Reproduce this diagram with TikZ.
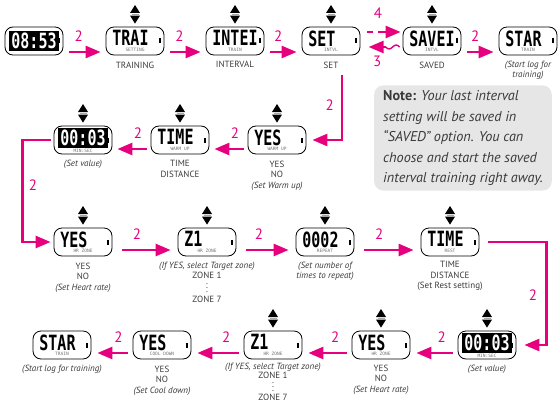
\documentclass[tikz,border=0pt]{standalone}
\usepackage{fontspec}
\setmainfont{PT Sans}
\newfontfamily\lcdfont{DejaVu Sans Mono}
\usetikzlibrary{arrows.meta, positioning}

\definecolor{stepmag}{HTML}{E6007E}
\definecolor{captxt}{HTML}{3A3A3A}
\definecolor{notebg}{HTML}{E6E6E6}

\newcommand{\lcd}[1]{\scalebox{1.0}[1.4]{\lcdfont\bfseries\fontsize{15}{15}\selectfont\makebox[3.01em][l]{#1}}}
\newcommand{\lcdinv}[1]{{\setlength{\fboxsep}{2pt}\colorbox{black}{\color{white}\lcd{#1}}}}
\newcommand{\lcdsub}[1]{{\lcdfont\fontsize{4.5}{5}\selectfont\color{black!55}#1}}

\begin{document}
\begin{tikzpicture}[x=1pt, y=-1pt,
        watch/.style={draw=black, line width=0.8pt, rounded corners=8pt, minimum width=58pt,
            minimum height=28pt, inner sep=0pt, align=center, font=\fontsize{5}{5.5}\selectfont},
        caption/.style={font=\fontsize{9}{10.5}\selectfont, text=captxt, align=center, inner sep=0pt},
        next arrow/.style={draw=stepmag, line width=2.6pt, -{Triangle[length=15pt, width=12pt]}},
        steplbl/.style={text=stepmag, font=\fontsize{15}{15}\selectfont, inner sep=0pt},
        note/.style={fill=notebg, rounded corners=9pt, align=left, inner xsep=9pt, inner ysep=5pt,
            font=\fontsize{14.2}{20.5}\selectfont, text=captxt},
        updown/.pic={
            \fill[black] (0,0) -- (-5,-8) -- (5,-8) -- cycle;
            \draw[black!35, line width=1pt] (-3.5,-9.3) -- (3.5,-9.3);
            \fill[black] (-5,-10.6) -- (5,-10.6) -- (0,-18.6) -- cycle;
        }]

    \useasboundingbox (0,0) rectangle (559,404);

    % Row 1: menu
    \node[watch] (w0) at (34,41) {\lcdinv{08:53}};
    \node[watch] (w1) at (135,41) {\lcd{TRAI}\\\lcdsub{SETTING}};
    \node[watch] (w2) at (235,41) {\lcd{INTEI}\\\lcdsub{TRAIN}};
    \node[watch] (w3) at (331,41) {\lcd{SET}\\\lcdsub{INTVL}};
    \node[watch] (w4) at (432,41) {\lcd{SAVEI}\\\lcdsub{INTVL}};
    \node[watch] (w5) at (528,41) {\lcd{STAR}\\\lcdsub{TRAIN}};

    % Row 2: warm up
    \node[watch] (v1) at (83,140) {\lcdinv{00:03}\\\lcdsub{MIN:SEC}};
    \node[watch] (v2) at (180,140) {\lcd{TIME}\\\lcdsub{WARM UP}};
    \node[watch] (v3) at (277,140) {\lcd{YES}\\\lcdsub{WARM UP}};

    % Row 3: heart rate, repeat, rest
    \node[watch] (h1) at (83,242) {\lcd{YES}\\\lcdsub{HR ZONE}};
    \node[watch] (h2) at (207,242) {\lcd{Z1}\\\lcdsub{HR ZONE}};
    \node[watch] (h3) at (325,242) {\lcd{0002}\\\lcdsub{REPEAT}};
    \node[watch] (h4) at (450,242) {\lcd{TIME}\\\lcdsub{REST}};

    % Row 4: back to start
    \node[watch] (r1) at (487,345) {\lcdinv{00:03}\\\lcdsub{MIN:SEC}};
    \node[watch] (r2) at (381,345) {\lcd{YES}\\\lcdsub{HR ZONE}};
    \node[watch] (r3) at (273,345) {\lcd{Z1}\\\lcdsub{HR ZONE}};
    \node[watch] (r4) at (162,345) {\lcd{YES}\\\lcdsub{COOL DOWN}};
    \node[watch] (r5) at (62,345) {\lcd{STAR}\\\lcdsub{TRAIN}};

    % Side marks and up/down buttons
    \foreach \w in {w0,w1,w2,w3,w4,w5,v1,v2,v3,h1,h2,h3,h4,r1,r2,r3,r4,r5}
        \fill ([shift={(-5,-2.5)}]\w.east) rectangle ++(2,5);
    \foreach \w in {w1,w2,w3,w4,v1,v2,v3,h1,h2,h3,h4,r1,r2,r3}
        \pic at ([yshift=3pt]\w.north) {updown};

    % Captions
    \node[caption, below=6pt of w1] (c1) {TRAINING};
    \node[caption, below=6pt of w2] (c2) {INTERVAL};
    \node[caption, below=6pt of w3] (c3) {SET};
    \node[caption, below=6pt of w4] (c4) {SAVED};
    \node[caption, below=5pt of w5] (c5) {\itshape(Start log for\\\itshape training)};
    \node[caption, below=5pt of v1] (cv1) {\itshape(Set value)};
    \node[caption, below=6pt of v2] (cv2) {TIME\\DISTANCE};
    \node[caption, below=6pt of v3] (cv3) {YES\\NO\\\itshape(Set Warm up)};
    \node[caption, below=6pt of h1] (ch1) {YES\\NO\\\itshape(Set Heart rate)};
    \node[caption, below=5pt of h2] (ch2) {\itshape(If YES, select Target zone)\\ZONE 1\\[-2pt]$\vdots$\\[-1pt]ZONE 7};
    \node[caption, below=5pt of h3] (ch3) {\itshape(Set number of\\\itshape times to repeat)};
    \node[caption, below=5pt of h4] (ch4) {TIME\\DISTANCE\\(Set Rest setting)};
    \node[caption, below=5pt of r1] (cr1) {\itshape(Set value)};
    \node[caption, below=5pt of r2] (cr2) {YES\\NO\\\itshape(Set Heart rate)};
    \node[caption, below=3pt of r3] (cr3) {\itshape(If YES, select Target zone)\\[-1pt]ZONE 1\\[-3pt]$\vdots$\\[-2pt]ZONE 7};
    \node[caption, below=6pt of r4] (cr4) {YES\\NO\\\itshape(Set Cool down)};
    \node[caption, below=5pt of r5] (cr5) {\itshape(Start log for training)};

    % Note
    \node[note] (note) at (463,138) {\textbf{Note:} \textit{Your last interval}\\
        \textit{setting will be saved in}\\
        \textit{“SAVED” option. You can}\\
        \textit{choose and start the saved}\\
        \textit{interval training right away.}};

    % Press-2 arrows
    \foreach \a/\b in {w0/w1, w1/w2, w2/w3, w4/w5}
        \draw[next arrow] ([shift={(6,11)}]\a.east) -- ([shift={(-5,11)}]\b.west)
            node[steplbl, pos=0.3, above=9pt] {2};
    \foreach \a/\b in {v3/v2, v2/v1}
        \draw[next arrow] ([shift={(-4,9)}]\a.west) -- ([shift={(5,9)}]\b.east)
            node[steplbl, pos=0.3, above=9pt] {2};
    \foreach \a/\b in {h1/h2, h2/h3, h3/h4}
        \draw[next arrow] ([shift={(10,8)}]\a.east) -- ([shift={(-7,8)}]\b.west)
            node[steplbl, pos=0.3, above=9pt] {2};
    \foreach \a/\b in {r1/r2, r2/r3, r3/r4, r4/r5}
        \draw[next arrow] ([shift={(-5,8)}]\a.west) -- ([shift={(6,8)}]\b.east)
            node[steplbl, pos=0.3, above=9pt] {2};

    % Saved / back
    \draw[next arrow, dash pattern=on 6pt off 5pt on 40pt] ([shift={(7,-9)}]w3.east) -- ([shift={(-2,-9)}]w4.west)
        node[steplbl, pos=0.32, above=12pt] {4};
    \draw[stepmag, line width=1.4pt] ([shift={(-3,6)}]w4.west) sin ++(-3.5,-2) cos ++(-3.5,2)
        sin ++(-3.5,2) cos ++(-3.5,-2) coordinate (t1);
    \draw[next arrow] (t1) -- ++(-17,0) node[steplbl, midway, below=8pt] {3};

    % Row links
    \draw[next arrow] ([shift={(11,20)}]w3.south) |- node[steplbl, pos=0.23, left=7pt] {2} ([xshift=6pt]v3.east);
    \draw[next arrow] ([xshift=-3pt]v1.west) -- ++(-28,0) |- node[steplbl, pos=0.22, right=5pt] {2} ([xshift=-3pt]h1.west);
    \draw[next arrow] ([xshift=9pt]h4.east) -- ++(58,0) |- node[steplbl, pos=0.26, left=8pt] {2} ([xshift=8pt]r1.east);
\end{tikzpicture}
\end{document}
